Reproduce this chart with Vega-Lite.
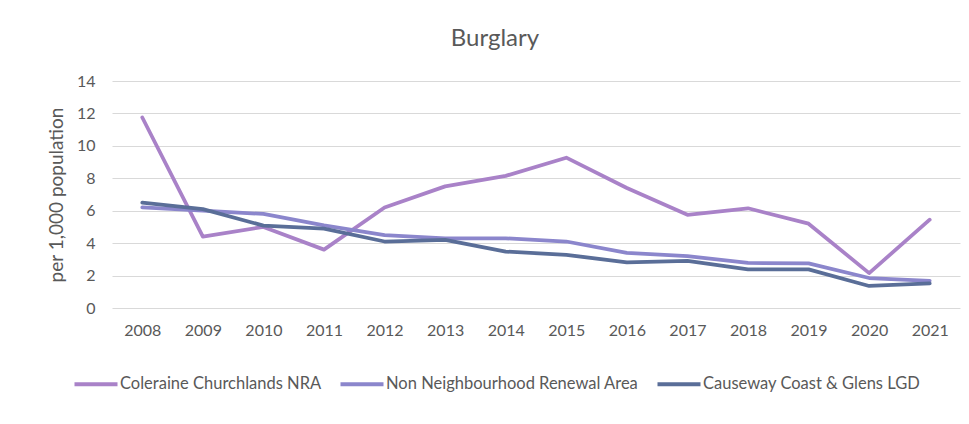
{
  "$schema": "https://vega.github.io/schema/vega-lite/v6.json",
  "width": 848,
  "height": 227,
  "autosize": {"type": "none"},
  "padding": {"left": 112, "top": 81, "right": 9, "bottom": 116},
  "background": "white",
  "config": {
    "view": {"stroke": null},
    "font": "Lato"
  },
  "title": {
    "text": "Burglary",
    "fontSize": 24,
    "fontWeight": "normal",
    "color": "#595959",
    "font": "Lato",
    "anchor": "middle",
    "frame": "group",
    "offset": 22,
    "dx": -41
  },
  "data": {
    "values": [
      {"year": "2008", "series": "Coleraine Churchlands NRA", "value": 11.75},
      {"year": "2009", "series": "Coleraine Churchlands NRA", "value": 4.4},
      {"year": "2010", "series": "Coleraine Churchlands NRA", "value": 5.0},
      {"year": "2011", "series": "Coleraine Churchlands NRA", "value": 3.6},
      {"year": "2012", "series": "Coleraine Churchlands NRA", "value": 6.2},
      {"year": "2013", "series": "Coleraine Churchlands NRA", "value": 7.5},
      {"year": "2014", "series": "Coleraine Churchlands NRA", "value": 8.15},
      {"year": "2015", "series": "Coleraine Churchlands NRA", "value": 9.27},
      {"year": "2016", "series": "Coleraine Churchlands NRA", "value": 7.4},
      {"year": "2017", "series": "Coleraine Churchlands NRA", "value": 5.75},
      {"year": "2018", "series": "Coleraine Churchlands NRA", "value": 6.15},
      {"year": "2019", "series": "Coleraine Churchlands NRA", "value": 5.2},
      {"year": "2020", "series": "Coleraine Churchlands NRA", "value": 2.15},
      {"year": "2021", "series": "Coleraine Churchlands NRA", "value": 5.45},
      {"year": "2008", "series": "Non Neighbourhood Renewal Area", "value": 6.2},
      {"year": "2009", "series": "Non Neighbourhood Renewal Area", "value": 6.0},
      {"year": "2010", "series": "Non Neighbourhood Renewal Area", "value": 5.8},
      {"year": "2011", "series": "Non Neighbourhood Renewal Area", "value": 5.1},
      {"year": "2012", "series": "Non Neighbourhood Renewal Area", "value": 4.5},
      {"year": "2013", "series": "Non Neighbourhood Renewal Area", "value": 4.3},
      {"year": "2014", "series": "Non Neighbourhood Renewal Area", "value": 4.3},
      {"year": "2015", "series": "Non Neighbourhood Renewal Area", "value": 4.1},
      {"year": "2016", "series": "Non Neighbourhood Renewal Area", "value": 3.4},
      {"year": "2017", "series": "Non Neighbourhood Renewal Area", "value": 3.2},
      {"year": "2018", "series": "Non Neighbourhood Renewal Area", "value": 2.78},
      {"year": "2019", "series": "Non Neighbourhood Renewal Area", "value": 2.75},
      {"year": "2020", "series": "Non Neighbourhood Renewal Area", "value": 1.85},
      {"year": "2021", "series": "Non Neighbourhood Renewal Area", "value": 1.68},
      {"year": "2008", "series": "Causeway Coast & Glens LGD", "value": 6.5},
      {"year": "2009", "series": "Causeway Coast & Glens LGD", "value": 6.1},
      {"year": "2010", "series": "Causeway Coast & Glens LGD", "value": 5.08},
      {"year": "2011", "series": "Causeway Coast & Glens LGD", "value": 4.9},
      {"year": "2012", "series": "Causeway Coast & Glens LGD", "value": 4.1},
      {"year": "2013", "series": "Causeway Coast & Glens LGD", "value": 4.2},
      {"year": "2014", "series": "Causeway Coast & Glens LGD", "value": 3.48},
      {"year": "2015", "series": "Causeway Coast & Glens LGD", "value": 3.28},
      {"year": "2016", "series": "Causeway Coast & Glens LGD", "value": 2.82},
      {"year": "2017", "series": "Causeway Coast & Glens LGD", "value": 2.9},
      {"year": "2018", "series": "Causeway Coast & Glens LGD", "value": 2.38},
      {"year": "2019", "series": "Causeway Coast & Glens LGD", "value": 2.38},
      {"year": "2020", "series": "Causeway Coast & Glens LGD", "value": 1.36},
      {"year": "2021", "series": "Causeway Coast & Glens LGD", "value": 1.52}
    ]
  },
  "mark": {"type": "line", "strokeWidth": 3.75, "strokeCap": "round", "strokeJoin": "round"},
  "encoding": {
    "x": {
      "field": "year",
      "type": "ordinal",
      "scale": {"type": "point", "padding": 0.5},
      "axis": {
        "title": null,
        "labelAngle": 0,
        "labelFontSize": 16,
        "labelColor": "#595959",
        "labelFont": "Lato",
        "labelPadding": 14,
        "domain": false,
        "ticks": false,
        "grid": false
      }
    },
    "y": {
      "field": "value",
      "type": "quantitative",
      "scale": {"domain": [0, 14], "nice": false},
      "axis": {
        "values": [0, 2, 4, 6, 8, 10, 12, 14],
        "title": "per 1,000 population",
        "titleFontSize": 19,
        "titleFontWeight": "normal",
        "titleColor": "#595959",
        "titleFont": "Lato",
        "titlePadding": 10,
        "labelFontSize": 16,
        "labelColor": "#595959",
        "labelFont": "Lato",
        "labelPadding": 17,
        "domain": false,
        "ticks": false,
        "grid": true,
        "gridColor": "#d9d9d9",
        "gridWidth": 1
      }
    },
    "color": {
      "field": "series",
      "type": "nominal",
      "sort": ["Coleraine Churchlands NRA", "Non Neighbourhood Renewal Area", "Causeway Coast & Glens LGD"],
      "scale": {
        "domain": ["Coleraine Churchlands NRA", "Non Neighbourhood Renewal Area", "Causeway Coast & Glens LGD"],
        "range": ["#a982c8", "#8b86cc", "#5a6e98"]
      },
      "legend": {
        "title": null,
        "orient": "none",
        "direction": "horizontal",
        "legendX": -40,
        "legendY": 279,
        "symbolType": "stroke",
        "symbolSize": 1850,
        "symbolStrokeWidth": 4,
        "labelFontSize": 16.5,
        "labelColor": "#595959",
        "labelFont": "Lato",
        "labelOffset": 0,
        "columnPadding": 10,
        "labelLimit": 400
      }
    }
  }
}
